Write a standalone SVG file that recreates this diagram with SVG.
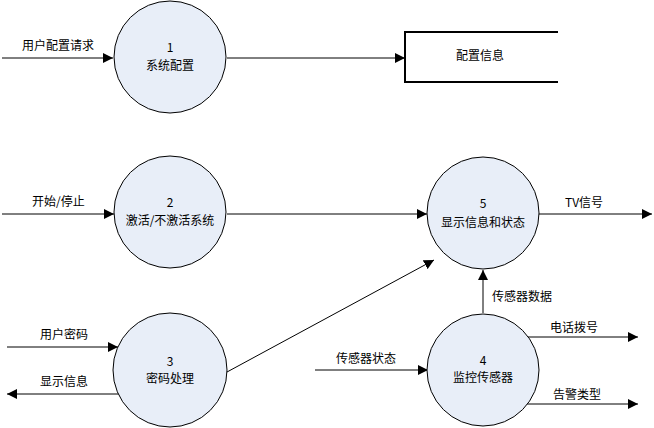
<svg xmlns="http://www.w3.org/2000/svg" width="654" height="428" viewBox="0 0 654 428">
<style>
  .proc { fill: #e8eef8; stroke: #000; stroke-width: 1; }
  .conn { fill: none; stroke: #000; stroke-width: 1; }
  .store { fill: none; stroke: #000; stroke-width: 2; }
  text { font-family: "Noto Sans CJK SC", "Liberation Sans", sans-serif; font-size: 12px; fill: #000; }
  .c { text-anchor: middle; }
</style>
<defs>
  <marker id="arr" markerUnits="userSpaceOnUse" markerWidth="10" markerHeight="10" viewBox="0 0 10 10" refX="10" refY="5" orient="auto">
    <path d="M0,0 L10,5 L0,10 z" fill="#000"/>
  </marker>
</defs>
<rect width="654" height="428" fill="#fff"/>
<g id="connectors">
  <path class="conn" d="M2,58 H113" marker-end="url(#arr)"/>
  <path class="conn" d="M227,58 H405" marker-end="url(#arr)"/>
  <path class="conn" d="M2,214 H114" marker-end="url(#arr)"/>
  <path class="conn" d="M227,214 H427" marker-end="url(#arr)"/>
  <path class="conn" d="M539,214 H652" marker-end="url(#arr)"/>
  <path class="conn" d="M7,347 H118" marker-end="url(#arr)"/>
  <path class="conn" d="M120,394 H7" marker-end="url(#arr)"/>
  <path class="conn" d="M227,372 L434,260" marker-end="url(#arr)"/>
  <path class="conn" d="M483,313 V270" marker-end="url(#arr)"/>
  <path class="conn" d="M315,370 H428" marker-end="url(#arr)"/>
  <path class="conn" d="M527,337 H638" marker-end="url(#arr)"/>
  <path class="conn" d="M527,404 H638" marker-end="url(#arr)"/>
  <text x="22" y="50">用户配置请求</text>
  <text x="32" y="206">开始/停止</text>
  <text x="40" y="339">用户密码</text>
  <text x="40" y="386">显示信息</text>
  <text x="336" y="363">传感器状态</text>
  <text x="492" y="301">传感器数据</text>
  <text x="550" y="332">电话拨号</text>
  <text x="553" y="399">告警类型</text>
  <text x="565" y="207">TV信号</text>
</g>
<g id="p1">
  <circle class="proc" cx="170" cy="57" r="56"/>
  <text class="c" x="170" y="52">1</text>
  <text class="c" x="170" y="70">系统配置</text>
</g>
<g id="p2">
  <circle class="proc" cx="170" cy="212" r="56"/>
  <text class="c" x="170" y="207">2</text>
  <text class="c" x="170" y="225">激活/不激活系统</text>
</g>
<g id="p3">
  <circle class="proc" cx="170" cy="370" r="57"/>
  <text class="c" x="170" y="366">3</text>
  <text class="c" x="170" y="383">密码处理</text>
</g>
<g id="p4">
  <circle class="proc" cx="483" cy="370" r="56"/>
  <text class="c" x="483" y="365">4</text>
  <text class="c" x="483" y="382">监控传感器</text>
</g>
<g id="p5">
  <circle class="proc" cx="483" cy="213" r="56"/>
  <text class="c" x="483" y="208">5</text>
  <text class="c" x="483" y="227">显示信息和状态</text>
</g>
<g id="store">
  <path class="store" d="M558,32 H405 V82 H558"/>
  <text class="c" x="480" y="60">配置信息</text>
</g>
</svg>
